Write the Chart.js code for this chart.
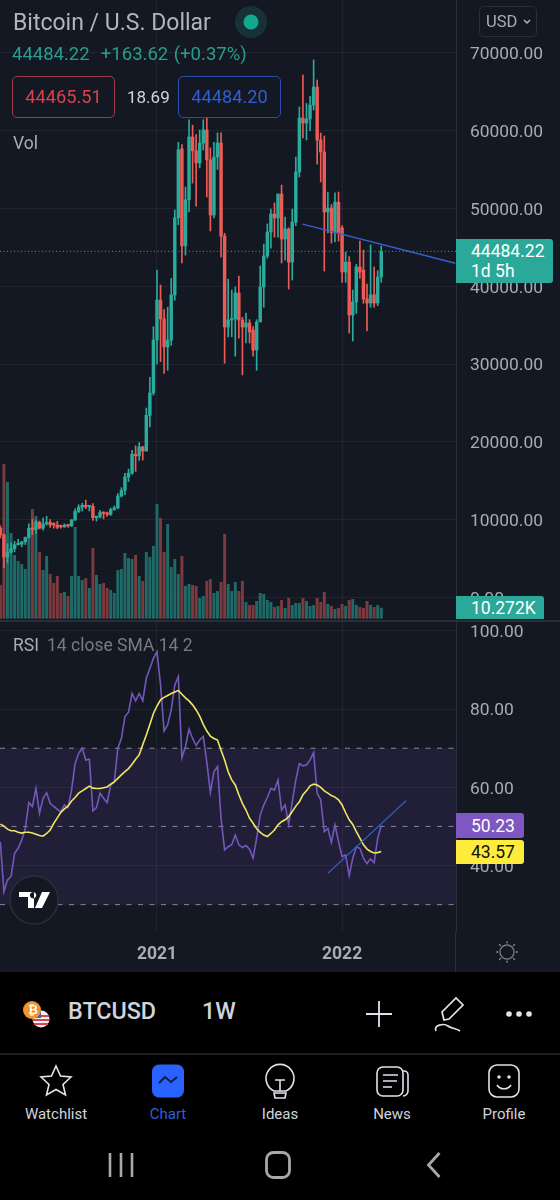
<!DOCTYPE html>
<html>
<head>
<meta charset="utf-8">
<title>BTCUSD 1W</title>
<script src="https://cdn.jsdelivr.net/npm/chart.js@4/dist/chart.umd.js"></script>
<style>
  html, body { margin: 0; padding: 0; background: #000; }
  body { position: relative; width: 560px; height: 1200px; overflow: hidden; font-family: Roboto, sans-serif; }
  #panel { position: absolute; left: 0; top: 0; width: 560px; height: 972px; background: #141823; }
  canvas { position: absolute; left: 0; display: block; }
  .t { position: absolute; white-space: nowrap; line-height: 1; }
  .box { position: absolute; box-sizing: border-box; border-radius: 5px; border: 1.5px solid; text-align: center; font-size: 18.2px; line-height: 39px; }
  .tag { position: absolute; left: 456px; color: #fff; font-size: 17.5px; }
  .rule { position: absolute; background: #2a2e39; }
  .tab { position: absolute; top: 1107px; width: 112px; text-align: center; font-size: 15px; color: #d1d4dc; line-height: 1; }
  svg { position: absolute; overflow: visible; }
</style>
</head>
<body>
<div id="panel"></div>
<canvas id="priceChart" width="560" height="620" style="top:0"></canvas>
<canvas id="rsiChart" width="560" height="352" style="top:620px"></canvas>

<div class="rule" style="left:0;top:620px;width:560px;height:1.5px"></div>
<div class="rule" style="left:455px;top:932px;width:1px;height:40px"></div>

<!-- header -->
<div class="t" style="left:13px;top:11px;font-size:23px;color:#b2b5be">Bitcoin / U.S. Dollar</div>
<svg style="left:251px;top:22px" width="1" height="1"><circle r="16" fill="#26a69a" opacity=".18"/><circle r="7.5" fill="#12a88c"/></svg>
<div class="t" style="left:12px;top:45px;font-size:18.500px;color:#2a9d8f;word-spacing:1px">44484.22 &nbsp;+163.62 (+0.37%)</div>
<div class="box" style="left:12px;top:76px;width:103px;height:42px;border-color:#a23a45;color:#d8434e">44465.51</div>
<div class="t" style="left:127px;top:89px;font-size:17px;color:#d1d4dc">18.69</div>
<div class="box" style="left:178px;top:76px;width:103px;height:42px;border-color:#2a4ea8;color:#2f5ed6">44484.20</div>
<div class="t" style="left:13px;top:135px;font-size:17.5px;color:#a9acb5">Vol</div>
<div class="box" style="left:479px;top:6px;width:58px;height:31px;border-color:#2a2e39;border-width:1px;line-height:29px;text-align:left;padding-left:6px;color:#a9acb5;font-size:16.5px">USD</div>
<svg style="left:527px;top:21px" width="1" height="1"><path d="M-3-1L0 2L3-1" fill="none" stroke="#b2b5be" stroke-width="1.5"/></svg>

<!-- last price labels -->
<div class="tag" style="top:239px;width:97px;height:44px;background:#2aa99b;border-radius:0 3px 3px 0;line-height:20px;padding-top:2px;box-sizing:border-box;padding-left:15px">44484.22<br>1d 5h</div>
<div class="tag" style="top:596px;width:88px;height:23px;background:#2aa99b;border-radius:0 3px 0 0;line-height:24px;padding-left:15px;box-sizing:border-box">10.272K</div>
<div class="tag" style="top:813px;width:68px;height:25px;background:#7e57c2;border-radius:0 3px 3px 0;line-height:26px;padding-left:15px;box-sizing:border-box">50.23</div>
<div class="tag" style="top:840px;width:68px;height:24px;background:#ffeb3b;color:#111;border-radius:0 3px 3px 0;line-height:25px;padding-left:15px;box-sizing:border-box">43.57</div>

<!-- rsi legend -->
<div class="t" style="left:13px;top:637px;font-size:17.5px;color:#a9acb5">RSI</div>
<div class="t" style="left:47px;top:637px;font-size:17.5px;color:#787b86">14 close SMA 14 2</div>

<!-- tradingview badge -->
<svg style="left:34px;top:900px" width="1" height="1">
  <circle r="24" fill="#141823" stroke="#2a2e39" stroke-width="1.5"/>
  <path d="M-15-8H0V8H-6V-3H-15ZM8-8H16L8 8H1ZM-1-8a3.2 3.2 0 1 0 .1 0" fill="#fff"/>
</svg>
<!-- settings sun -->
<svg style="left:507px;top:952px" width="1" height="1" fill="none" stroke="#787b86" stroke-width="1.3">
  <circle r="7"/>
  <path d="M0-8.5V-11M0 8.5V11M-8.5 0H-11M8.5 0H11M-6-6L-8-8M6-6L8-8M-6 6L-8 8M6 6L8 8"/>
</svg>

<!-- symbol bar -->
<svg style="left:41px;top:1019px" width="1" height="1"><circle r="8.5" fill="#f1f1f1"/><path d="M-8-3H8M-8 1H8M-7 5H7" stroke="#d8434e" stroke-width="2"/><path d="M-8-1A8.5 8.5 0 0 1 0-8.5V-1Z" fill="#3a5fb0"/></svg>
<svg style="left:32px;top:1010px" width="1" height="1"><circle r="9" fill="#f2962b"/></svg>
<div class="t" style="left:28px;top:1004px;font-size:12px;font-weight:700;color:#fff">₿</div>
<div class="t" style="left:68px;top:1000px;font-size:23.300px;font-weight:500;color:#d1d4dc">BTCUSD</div>
<div class="t" style="left:202px;top:1000px;font-size:23.300px;font-weight:500;color:#d1d4dc">1W</div>
<svg style="left:379px;top:1014px" width="1" height="1"><path d="M-13 0H13M0-13V13" stroke="#e0e3eb" stroke-width="1.8"/></svg>
<svg style="left:450px;top:1014px" width="1" height="1" fill="none" stroke="#e0e3eb" stroke-width="1.7"><path d="M-6 6L-8-2L6-16L13-9L-1 5Z"/><path d="M-14 17C-17 11 -6 9 -2 12C2 15 6 14 10 17"/></svg>
<svg style="left:519px;top:1014px" width="1" height="1" fill="#e0e3eb"><circle cx="-10" r="2.8"/><circle r="2.8"/><circle cx="10" r="2.8"/></svg>
<div class="rule" style="left:0;top:1053px;width:560px;height:2px;background:#1c1f26"></div>

<!-- tabs -->
<svg style="left:56px;top:1081px" width="1" height="1"><path d="M0-15L4.5-5L15-4L7 3.5L9.500 14L0 8.500L-9.500 14L-7 3.500L-15-4L-4.500-5Z" fill="none" stroke="#e0e3eb" stroke-width="1.6"/></svg>
<svg style="left:168px;top:1081px" width="1" height="1"><rect x="-16" y="-16.500" width="32" height="33" rx="7" fill="#2962ff"/><path d="M-9 2L-3-4L3 1L9-4" fill="none" stroke="#0d1b3e" stroke-width="2"/></svg>
<svg style="left:280px;top:1081px" width="1" height="1" fill="none" stroke="#e0e3eb" stroke-width="1.6"><path d="M-6 10A14 14 0 1 1 6 10Z"/><path d="M-5-1H5M0-1V10M-6 12H6L5 17H-5Z"/></svg>
<svg style="left:392px;top:1081px" width="1" height="1" fill="none" stroke="#e0e3eb" stroke-width="1.6"><rect x="-15" y="-14" width="26" height="29" rx="6"/><path d="M11-10H12A4 4 0 0 1 16-6V10A5 5 0 0 1 11 15M-9-6H6M-9 0H5M-9 6H0"/></svg>
<svg style="left:504px;top:1081px" width="1" height="1" fill="none" stroke="#e0e3eb" stroke-width="1.6"><rect x="-15" y="-16" width="30" height="32" rx="8"/><circle cx="-5" cy="-4" r="1" fill="#e0e3eb"/><circle cx="5" cy="-4" r="1" fill="#e0e3eb"/><path d="M-7 4C-4 9 4 9 7 4"/></svg>
<div class="tab" style="left:0">Watchlist</div>
<div class="tab" style="left:112px;color:#2f5ed6">Chart</div>
<div class="tab" style="left:224px">Ideas</div>
<div class="tab" style="left:336px">News</div>
<div class="tab" style="left:448px">Profile</div>

<!-- android nav -->
<svg style="left:121px;top:1165px" width="1" height="1"><path d="M-11-12V12M0-12V12M11-12V12" stroke="#a8a8a8" stroke-width="2.600"/></svg>
<svg style="left:278px;top:1165px" width="1" height="1"><rect x="-11.500" y="-12.500" width="23" height="25" rx="7" fill="none" stroke="#a8a8a8" stroke-width="2.800"/></svg>
<svg style="left:434px;top:1165px" width="1" height="1"><path d="M5.500-12L-5.500 0L5.500 12" fill="none" stroke="#a8a8a8" stroke-width="2.800"/></svg>

<script>
/* BTCUSD 1W — candles + volume on top, RSI pane below. */
const opens = [
  8900,8040,5190,5810,6250,6780,6860,7130,7690,8900,
  8720,9680,8900,9450,9650,9320,9300,9180,9070,9240,
  9190,9950,11050,11600,11850,11650,11700,10250,10330,10920,
  10780,10670,11300,11500,13030,13750,15480,15960,18400,18190,
  19350,18800,23400,26270,33070,38220,35790,32190,33070,38870,
  48790,57650,45180,51100,59180,57400,55850,58400,60080,56240,
  49150,56600,58400,46450,34750,35650,35790,39130,35650,34750,
  35270,34370,31800,35400,39900,43880,46970,49280,48770,51850,
  46060,47350,43100,48250,54680,61620,60980,61490,63280,65600,
  58800,57250,49540,50050,46860,50800,47500,41830,43100,36300,
  37970,42470,42080,38350,37840,38900,37840,41180];
const closes = [
  8040,5190,5810,6250,6780,6860,7130,7690,8900,8720,
  9680,8900,9450,9650,9320,9300,9000,9070,9240,9190,
  9950,11050,11600,11850,11650,11700,10250,10330,10920,10780,
  10670,11300,11500,13030,13750,15480,15960,18400,18190,19350,
  18800,23400,26270,33070,38220,35790,32190,33070,38870,48790,
  57530,45180,51100,59180,57400,55850,58400,60080,56240,49150,
  56600,58400,46450,34750,35650,35790,39130,35650,34750,35270,
  34100,31800,35400,39900,43880,46970,49280,48770,51850,46060,
  47350,43100,48250,54680,61620,60980,61490,63280,65600,58800,
  57250,49540,50050,46860,50800,46860,41830,43100,36300,37970,
  42470,41830,38350,37840,38900,37840,41180,44484.22];
const highs = [
  9190,8180,6900,6980,7200,7470,7200,7760,9460,10050,
  9930,9800,10200,10430,10000,9600,9780,9300,9470,9400,
  10000,11400,11900,12100,12490,11800,12050,10400,11200,11000,
  10980,11480,11740,13350,14100,15950,16500,18900,19480,19900,
  19420,24340,28300,34800,42080,40150,37000,37300,41000,49800,
  58500,58200,52750,61370,60700,59500,60080,61400,61600,57770,
  58500,59700,59700,46800,40900,39500,39900,41300,36000,36550,
  35700,34800,35700,42600,45400,48000,49900,50700,51850,53000,
  48900,47500,49900,56600,63030,67150,63500,64400,69080,66500,
  59700,59300,52100,50500,52000,52100,47800,44400,43800,39500,
  42800,45800,44650,40280,45300,42470,42000,45160];
const lows = [
  7630,3780,4440,5700,5860,6700,6500,6800,7630,8100,
  8200,8800,8640,9280,9000,8900,8830,8900,9000,9000,
  9100,9900,10900,11100,11400,11100,9900,9800,10200,10100,
  10400,10530,11200,11400,12900,13200,14900,15800,16200,17600,
  17650,19000,21900,26000,30000,30300,28800,29200,32400,38200,
  47900,43000,44000,49540,53260,50300,55200,57500,51480,47100,
  48770,55000,43750,30100,33470,33500,31000,33330,28600,32700,
  32700,31000,29200,37300,37300,43600,44900,46300,46300,42980,
  43360,39640,40800,47800,54040,59050,58800,60000,62650,55700,
  53400,41950,46860,45550,45700,45800,40500,40500,33980,32950,
  36500,41000,37800,34240,37300,37300,37500,40500];
const volumes = [
  33,154,136,85,63,57,54,49,83,109,
  102,66,48,62,44,35,42,25,26,22,
  42,91,42,38,40,30,70,43,34,35,
  30,28,25,48,49,65,60,59,63,42,
  37,66,61,72,114,100,66,94,51,59,
  44,62,32,34,33,32,20,22,37,39,
  25,27,36,84,34,27,36,27,37,16,
  13,13,17,25,24,18,16,11,12,18,
  10,20,13,15,15,20,17,12,13,20,
  16,26,14,12,9,10,14,12,18,19,
  13,11,10,17,13,11,13,10.272];
const rsi = [
  46,33.3,36.3,37.2,43.1,44.4,46.5,49.5,56.1,55.1,
  59.7,53.4,57.2,58.6,55.9,55.1,54.4,53.8,55.5,54.8,
  59.3,66.1,68.7,70,67,67.2,54,54.8,58.5,57.2,
  56.1,60.6,61.4,70,72.5,78.1,79.2,84,82.1,84,
  82.1,87.9,90.4,93,94.7,86.2,74.4,76,79.8,86.2,
  88.3,67.6,70.4,74.9,72.5,70.7,72.1,73,66.4,58.7,
  64,65.3,52,44,44.8,45.3,47.8,45.3,44.6,45.1,
  44.2,41.9,47,52.9,55.5,57.4,59.7,59.3,61.9,54.2,
  55.5,50.5,56.3,61.9,66.1,65.5,65.7,67,68.9,58.5,
  56.8,48.7,49.5,45.9,50.4,46.1,42.3,42.7,37.4,41.9,
  44.8,44.4,41.9,40.5,41.7,40.7,47,50.23];
const rsiMa = [
  50.6,50.1,49.3,48.9,48.9,48.5,48.3,48.5,48.5,48.3,
  48,47.7,47.5,48.2,49.1,50.8,52.2,53.6,54.5,55.2,
  56.5,57.4,58.5,59.1,59.7,60.3,59.8,59.7,59.7,59.9,
  60.1,60.8,61.4,62.3,63.2,64,64.8,65.9,67.2,68.3,
  70.9,73.4,76.1,78.9,80.8,82.4,83,83.5,84,84.4,
  84.8,83.8,82.9,82.1,81.1,79.8,78.2,76.1,74.4,73.1,
  72.5,72.1,69.5,67,64,61.9,60.6,58.1,55.9,54.2,
  52.1,50.8,49.4,48.5,47.8,47.4,48.2,49.1,50.4,51.2,
  51.7,52.5,53.8,55.2,56.3,58.1,59.1,60.4,60.8,60.6,
  60,59.1,58.5,57.9,57.5,56.8,55.5,53.5,51.7,50.5,
  48.7,47,45.3,44.2,43.6,43.2,43.3,43.57];

const priceTicks = [0, 10000, 20000, 30000, 40000, 50000, 60000, 70000];
const rsiTicks = [40, 60, 80, 100];
const yearIdx = [44, 96];
const yearLabels = ["2021", "2022"];
const lastPrice = 44484.22;
const priceTrendX = [84.9, 127.8];
const priceTrendY = [47990, 42950];
const rsiTrendX = [92, 114];
const rsiTrendY = [38, 56.6];
const rsiLevels = [70, 50, 30];

const COL = { up: "#2aab9c", down: "#ec5b55", upVol: "#1f6a66", downVol: "#7c3a3e",
  grid: "rgba(255,255,255,0.055)", axis: "#2a2e39", label: "#a9acb5", trend: "#3560cf",
  rsi: "#7557bb", ma: "#f3e663", level: "#8a8d96", band: "rgba(126,87,194,0.13)" };
const X_MIN = -0.1, X_MAX = 128;
const AXIS_W = 104;

Chart.defaults.font.family = "Roboto, sans-serif";
Chart.defaults.animation = false;

const isUp = (i) => closes[i] >= opens[i];
const pts = (xs, ys) => xs.map((x, i) => ({ x, y: ys[i] }));
const flat = (y) => [{ x: X_MIN, y }, { x: X_MAX, y }];
const line = (data, color, width, extra) => Object.assign(
  { type: "line", data, borderColor: color, borderWidth: width, pointRadius: 0, tension: 0, order: 1 }, extra || {});

const xAxis = (withLabels) => ({
  type: "linear", min: X_MIN, max: X_MAX, offset: false,
  grid: { color: COL.grid, offset: false, drawTicks: false },
  border: { display: false },
  afterBuildTicks: (s) => { s.ticks = yearIdx.map((v) => ({ value: v })); },
  ticks: {
    display: withLabels, autoSkip: false, maxRotation: 0, padding: 12,
    color: COL.label, font: { size: 17.5, weight: "bold" },
    callback: (v) => yearLabels[yearIdx.indexOf(v)],
  },
  afterFit: (s) => { s.height = withLabels ? 40 : 0; },
});
const yAxis = (ticks, min, max) => ({
  position: "right", min, max,
  grid: { color: COL.grid, drawTicks: false },
  border: { color: COL.axis },
  afterBuildTicks: (s) => { s.ticks = ticks.map((v) => ({ value: v })); },
  ticks: { padding: 14, labelOffset: 2, color: COL.label, font: { size: 17.4 }, callback: (v) => v.toFixed(2) },
  afterFit: (s) => { s.width = AXIS_W; s.paddingTop = 0; s.paddingBottom = 0; },
});
const plain = {
  layout: { autoPadding: false, padding: 0 },
  plugins: { legend: { display: false }, tooltip: { enabled: false } },
};

new Chart(document.getElementById("priceChart"), {
  type: "bar",
  data: {
    datasets: [
      { label: "Vol", yAxisID: "vol", order: 4, grouped: false, barThickness: 2.3,
        data: volumes.map((v, i) => ({ x: i, y: v })),
        backgroundColor: volumes.map((v, i) => (isUp(i) ? COL.upVol : COL.downVol)) },
      { label: "wick", yAxisID: "y", order: 3, grouped: false, barThickness: 1,
        data: lows.map((l, i) => ({ x: i, y: [l, highs[i]] })),
        backgroundColor: lows.map((l, i) => (isUp(i) ? COL.up : COL.down)) },
      { label: "body", yAxisID: "y", order: 2, grouped: false, barThickness: 2.8, minBarLength: 1.5,
        data: opens.map((o, i) => ({ x: i, y: [o, closes[i]] })),
        backgroundColor: opens.map((o, i) => (isUp(i) ? COL.up : COL.down)) },
      line(flat(lastPrice), COL.up, 1, { yAxisID: "y", borderDash: [1, 2.5] }),
      line(pts(priceTrendX, priceTrendY), COL.trend, 1.3, { yAxisID: "y" }),
    ],
  },
  options: Object.assign({
    responsive: false,
    scales: {
      x: xAxis(false),
      y: yAxis(priceTicks, -2905, 76787),
      vol: { display: false, min: -1.7, max: 618.3 },
    },
  }, plain),
});

new Chart(document.getElementById("rsiChart"), {
  type: "line",
  data: {
    datasets: [
      line(flat(rsiLevels[0]), COL.level, 1, { borderDash: [5, 6.5], fill: "+1", backgroundColor: COL.band, order: 5 }),
      line(flat(rsiLevels[2]), COL.level, 1, { borderDash: [5, 6.5], order: 5 }),
      line(flat(rsiLevels[1]), COL.level, 1, { borderDash: [5, 6.5], order: 5 }),
      line(rsi.map((v, i) => ({ x: i, y: v })), COL.rsi, 1.6, { order: 3 }),
      line(rsiMa.map((v, i) => ({ x: i, y: v })), COL.ma, 1.6, { order: 2 }),
      line(pts(rsiTrendX, rsiTrendY), COL.trend, 1.3, { order: 1 }),
    ],
  },
  options: Object.assign({
    responsive: false,
    scales: { x: xAxis(true), y: yAxis(rsiTicks, 23, 102.8) },
  }, plain),
});
</script>
</body>
</html>
